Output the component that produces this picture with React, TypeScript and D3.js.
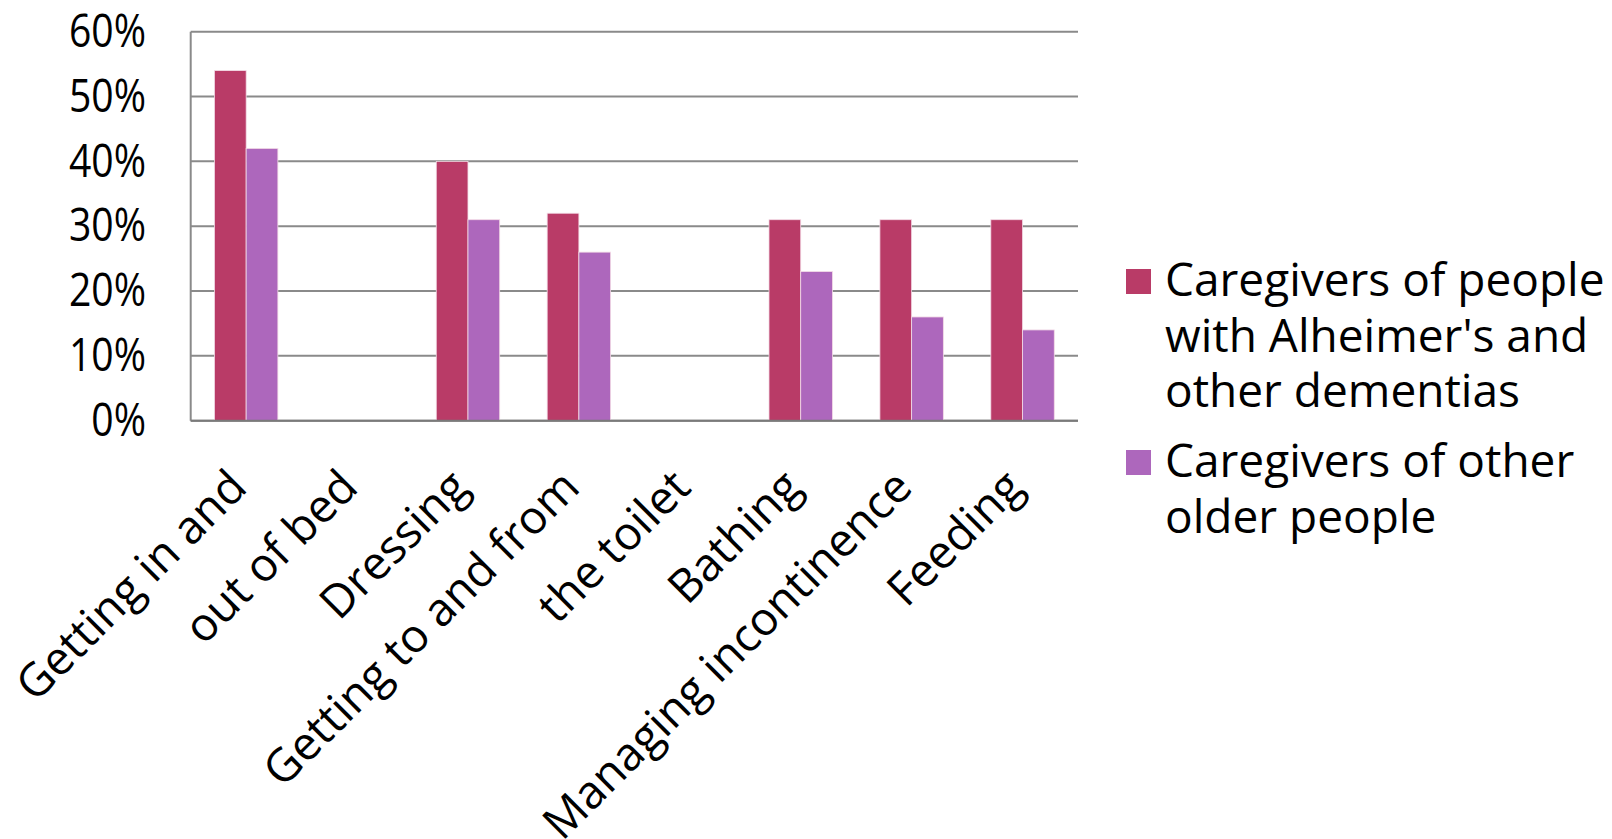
import React from "react";
import * as d3 from "d3";

const categories = [
  "Getting in and",
  "out of bed",
  "Dressing",
  "Getting to and from",
  "the toilet",
  "Bathing",
  "Managing incontinence",
  "Feeding",
];
const seriesNames = ["Caregivers of people with Alheimer's and other dementias", "Caregivers of other older people"];
const alzheimersValues = [0.54, null, 0.40, 0.32, null, 0.31, 0.31, 0.31];
const otherValues = [0.42, null, 0.31, 0.26, null, 0.23, 0.16, 0.14];
const yTicks = [0, 0.1, 0.2, 0.3, 0.4, 0.5, 0.6];
const legendLines = [
  ["Caregivers of people", "with Alheimer's and", "other dementias"],
  ["Caregivers of other", "older people"],
];
const colors = ["#B93B67", "#AD67BC"];

export default function App() {
  const W = 1612;
  const H = 839;
  const left = 190.7;
  const right = 1078;
  const top = 31.7;
  const bottom = 420.7;

  const y = d3.scaleLinear().domain([0, 0.6]).range([bottom, top]);
  const x0 = d3
    .scaleBand<string>()
    .domain(categories)
    .range([left, right])
    .paddingInner(0.428)
    .paddingOuter(0.214);
  const x1 = d3
    .scaleBand<number>()
    .domain([0, 1])
    .range([0, x0.bandwidth()]);
  const series = [alzheimersValues, otherValues];
  const fmt = d3.format(".0%");

  const legendY = [269, 450];
  const lineH = 55.5;

  return (
    <svg
      width={W}
      height={H}
      style={{ position: "absolute", left: 0, top: 0, background: "#fff" }}
    >
      {/* gridlines */}
      {yTicks.map((t) => (
        <line
          key={"g" + t}
          x1={left}
          x2={right}
          y1={y(t)}
          y2={y(t)}
          stroke="#8a8a8a"
          strokeWidth={2}
        />
      ))}
      <line x1={left} x2={left} y1={top} y2={bottom} stroke="#8a8a8a" strokeWidth={2} />
      {/* bars */}
      {categories.map((c, i) => (
        <g key={c} transform={`translate(${x0(c)},0)`}>
          {series.map((s, si) =>
            s[i] == null ? null : (
              <rect
                key={si}
                x={x1(si)}
                y={y(s[i] as number)}
                width={x1.bandwidth()}
                height={y(0) - y(s[i] as number)}
                fill={colors[si]}
                stroke="#f3dbe6"
                strokeWidth={0.8}
              />
            )
          )}
        </g>
      ))}
      <line x1={left} x2={right} y1={bottom} y2={bottom} stroke="#7a7a7a" strokeWidth={2} />
      {/* y ticks */}
      {yTicks.map((t) => (
        <text
          key={"t" + t}
          transform={`translate(146,${y(t)}) scale(0.85,1)`}
          dy="0.33em"
          textAnchor="end"
          fontFamily="'Open Sans', sans-serif"
          fontSize={46}
          fill="#000"
        >
          {fmt(t)}
        </text>
      ))}
      {/* x labels */}
      {categories.map((c) => {
        const cx = (x0(c) as number) + x0.bandwidth() / 2;
        return (
          <text
            key={"x" + c}
            transform={`translate(${cx + 3},${bottom + 69}) rotate(-45)`}
            textAnchor="end"
            fontFamily="'Open Sans', sans-serif"
            fontSize={46}
            fill="#000"
          >
            {c}
          </text>
        );
      })}
      {/* legend */}
      {legendLines.map((lines, li) => (
        <g key={"l" + li}>
          <rect x={1126} y={legendY[li]} width={25} height={25} fill={colors[li]}>
            <title>{seriesNames[li]}</title>
          </rect>
          {lines.map((ln, k) => (
            <text
              key={k}
              x={1165}
              y={legendY[li] + 27 + k * lineH}
              fontFamily="'Open Sans', sans-serif"
              fontSize={46}
              fill="#000"
            >
              {ln}
            </text>
          ))}
        </g>
      ))}
    </svg>
  );
}
